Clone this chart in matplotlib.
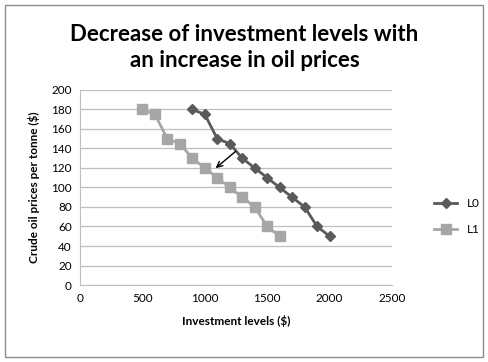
import matplotlib.pyplot as plt
from matplotlib.patches import Rectangle

# data
l0_invest = [900, 1000, 1100, 1200, 1300, 1400, 1500, 1600, 1700, 1800, 1900, 2000]
l1_invest = [500, 600, 700, 800, 900, 1000, 1100, 1200, 1300, 1400, 1500, 1600]
oil_price = [180, 175, 150, 145, 130, 120, 110, 100, 90, 80, 60, 50]

plt.rcParams['font.family'] = ['Lato', 'DejaVu Sans']

fig = plt.figure(figsize=(4.89, 3.62), dpi=100)
ax = fig.add_axes([0.1636, 0.2127, 0.638, 0.5387])

ax.plot(l0_invest, oil_price, color='#5a5a5a', marker='D', markersize=5,
        linewidth=2, label='L0')
ax.plot(l1_invest, oil_price, color='#a6a6a6', marker='s', markersize=7,
        linewidth=2, label='L1')

# arrow showing the shift from L0 to L1
ax.annotate('', xy=(1070, 118), xytext=(1265, 139),
            arrowprops=dict(arrowstyle='->', color='black', lw=1))

ax.set_xlim(0, 2500)
ax.set_ylim(0, 200)
ax.set_xticks(range(0, 2501, 500))
ax.set_yticks(range(0, 201, 20))
ax.tick_params(labelsize=8.5, length=0, pad=6)
ax.grid(axis='y', color='#bfbfbf', linewidth=0.9)
ax.set_axisbelow(True)
for side in ['top', 'right']:
    ax.spines[side].set_visible(False)
for side in ['left', 'bottom']:
    ax.spines[side].set_color('#bfbfbf')

ax.set_xlabel('Investment levels ($)', fontsize=8.5, fontweight='bold', labelpad=8)
ax.set_ylabel('Crude oil prices per tonne ($)', fontsize=8.5, fontweight='bold', labelpad=8)

fig.text(0.5, 0.87, 'Decrease of investment levels with\nan increase in oil prices',
         ha='center', va='center', fontsize=16, fontweight='bold', linespacing=1.3)

leg = ax.legend(loc='center left', bbox_to_anchor=(1.1, 0.35), frameon=False,
                fontsize=8.5, handlelength=2.0, labelspacing=1.3)

# outer chart border
fig.patches.append(Rectangle((0.01, 0.015), 0.978, 0.97, transform=fig.transFigure,
                             fill=False, edgecolor='#8c8c8c', linewidth=1))

fig.savefig('out.png', dpi=100)
